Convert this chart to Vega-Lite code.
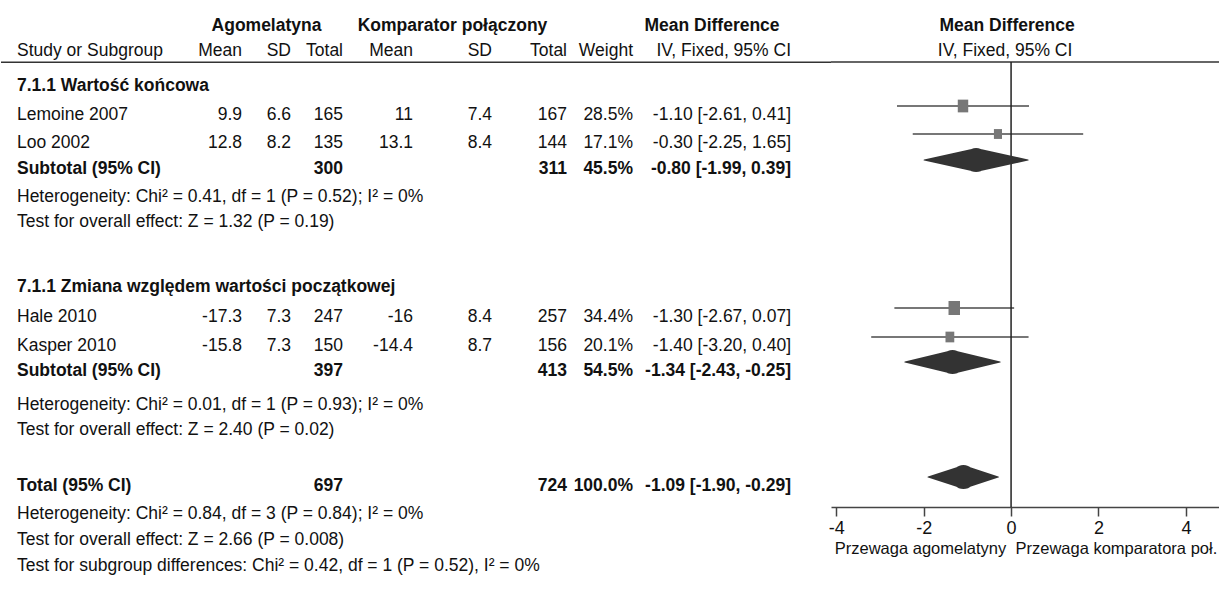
{
  "$schema": "https://vega.github.io/schema/vega-lite/v6.json",
  "padding": 0,
  "spacing": 0,
  "bounds": "flush",
  "background": "white",
  "config": {
    "view": {"stroke": null},
    "font": "Liberation Sans",
    "text": {"font": "Liberation Sans", "fontSize": 17.5, "color": "#111"},
    "axis": {"grid": false, "domainColor": "#444", "domainWidth": 1.5, "tickColor": "#444", "tickWidth": 1.5, "tickSize": 9, "labelFont": "Liberation Sans", "labelFontSize": 18, "labelColor": "#111", "labelPadding": 3, "labelFlush": false, "labelExpr": "replace(datum.label, '\u2212', '-')", "titleFont": "Liberation Sans", "titleFontSize": 16.5, "titleFontWeight": "normal", "titleColor": "#111", "titlePadding": 3}
  },
  "datasets": {
    "rows": [
      {"line": 0, "kind": "head", "label": "Study or Subgroup", "m1": "Mean", "s1": "SD", "n1": "Total", "m2": "Mean", "s2": "SD", "n2": "Total", "w": "Weight", "ci": "IV, Fixed, 95% CI"},
      {"line": 1.4, "kind": "group", "label": "7.1.1 Wartość końcowa"},
      {"line": 2.56, "kind": "study", "label": "Lemoine 2007", "m1": "9.9", "s1": "6.6", "n1": "165", "m2": "11", "s2": "7.4", "n2": "167", "w": "28.5%", "ci": "-1.10 [-2.61, 0.41]"},
      {"line": 3.68, "kind": "study", "label": "Loo 2002", "m1": "12.8", "s1": "8.2", "n1": "135", "m2": "13.1", "s2": "8.4", "n2": "144", "w": "17.1%", "ci": "-0.30 [-2.25, 1.65]"},
      {"line": 4.72, "kind": "sub", "label": "Subtotal (95% CI)", "n1": "300", "n2": "311", "w": "45.5%", "ci": "-0.80 [-1.99, 0.39]"},
      {"line": 5.84, "kind": "stat", "label": "Heterogeneity: Chi² = 0.41, df = 1 (P = 0.52); I² = 0%"},
      {"line": 6.84, "kind": "stat", "label": "Test for overall effect: Z = 1.32 (P = 0.19)"},
      {"line": 9.44, "kind": "group", "label": "7.1.1 Zmiana względem wartości początkowej"},
      {"line": 10.64, "kind": "study", "label": "Hale 2010", "m1": "-17.3", "s1": "7.3", "n1": "247", "m2": "-16", "s2": "8.4", "n2": "257", "w": "34.4%", "ci": "-1.30 [-2.67, 0.07]"},
      {"line": 11.8, "kind": "study", "label": "Kasper 2010", "m1": "-15.8", "s1": "7.3", "n1": "150", "m2": "-14.4", "s2": "8.7", "n2": "156", "w": "20.1%", "ci": "-1.40 [-3.20, 0.40]"},
      {"line": 12.8, "kind": "sub", "label": "Subtotal (95% CI)", "n1": "397", "n2": "413", "w": "54.5%", "ci": "-1.34 [-2.43, -0.25]"},
      {"line": 14.16, "kind": "stat", "label": "Heterogeneity: Chi² = 0.01, df = 1 (P = 0.93); I² = 0%"},
      {"line": 15.16, "kind": "stat", "label": "Test for overall effect: Z = 2.40 (P = 0.02)"},
      {"line": 17.4, "kind": "sub", "label": "Total (95% CI)", "n1": "697", "n2": "724", "w": "100.0%", "ci": "-1.09 [-1.90, -0.29]"},
      {"line": 18.52, "kind": "stat", "label": "Heterogeneity: Chi² = 0.84, df = 3 (P = 0.84); I² = 0%"},
      {"line": 19.56, "kind": "stat", "label": "Test for overall effect: Z = 2.66 (P = 0.008)"},
      {"line": 20.6, "kind": "stat", "label": "Test for subgroup differences: Chi² = 0.42, df = 1 (P = 0.52), I² = 0%"}
    ],
    "cols": [
      {"key": "label", "col": 0}, {"key": "m1", "col": 1}, {"key": "s1", "col": 2}, {"key": "n1", "col": 3},
      {"key": "m2", "col": 4}, {"key": "s2", "col": 5}, {"key": "n2", "col": 6}, {"key": "w", "col": 7}, {"key": "ci", "col": 8}
    ],
    "spans": [
      {"line": -1, "col": 1.5, "text": "Agomelatyna"},
      {"line": -1, "col": 4.5, "text": "Komparator połączony"},
      {"line": -1, "col": 7.5, "text": "Mean Difference"}
    ],
    "studies": [
      {"line": 2.56, "md": -1.10, "lo": -2.61, "hi": 0.41, "w": 28.5},
      {"line": 3.68, "md": -0.30, "lo": -2.25, "hi": 1.65, "w": 17.1},
      {"line": 10.64, "md": -1.30, "lo": -2.67, "hi": 0.07, "w": 34.4},
      {"line": 11.8, "md": -1.40, "lo": -3.20, "hi": 0.40, "w": 20.1}
    ],
    "pooled": [
      {"line": 4.72, "md": -0.80, "lo": -1.99, "hi": 0.39},
      {"line": 12.8, "md": -1.34, "lo": -2.43, "hi": -0.25},
      {"line": 17.4, "md": -1.09, "lo": -1.90, "hi": -0.29}
    ],
    "fhead": [
      {"line": -1, "text": "Mean Difference", "kind": "top"},
      {"line": 0, "text": "IV, Fixed, 95% CI", "kind": "sub"}
    ]
  },
  "hconcat": [
    {
      "width": 830,
      "height": 589,
      "layer": [
        {
          "data": {"values": [{}]},
          "mark": {"type": "rule", "color": "#333", "strokeWidth": 1.5},
          "encoding": {
            "y": {"datum": 0.45, "type": "quantitative", "scale": {"domain": [-2.04, 21.52], "reverse": true, "nice": false, "zero": false}, "axis": null}
          }
        },
        {
          "data": {"name": "spans"},
          "mark": {"type": "text", "align": "center", "baseline": "middle", "fontWeight": "bold"},
          "encoding": {
            "x": {"field": "col", "type": "quantitative", "scale": {"domain": [0, 1, 2, 3, 4, 5, 6, 7, 8], "range": [16, 241, 290, 342, 412, 491, 566, 632, 790]}, "axis": null},
            "y": {"field": "line", "type": "quantitative", "axis": null},
            "text": {"field": "text"}
          }
        },
        {
          "data": {"name": "rows"},
          "transform": [
            {"fold": ["label", "m1", "s1", "n1", "m2", "s2", "n2", "w", "ci"], "as": ["key", "value"]},
            {"filter": "datum.value != null"},
            {"lookup": "key", "from": {"data": {"name": "cols"}, "key": "key", "fields": ["col"]}},
            {"filter": "datum.col == 0 && (datum.kind == 'study' || datum.kind == 'stat' || datum.kind == 'head')"}
          ],
          "mark": {"type": "text", "align": "left", "baseline": "middle"},
          "encoding": {
            "x": {"field": "col", "type": "quantitative", "axis": null},
            "y": {"field": "line", "type": "quantitative", "axis": null},
            "text": {"field": "value"}
          }
        },
        {
          "data": {"name": "rows"},
          "transform": [
            {"fold": ["label", "m1", "s1", "n1", "m2", "s2", "n2", "w", "ci"], "as": ["key", "value"]},
            {"filter": "datum.value != null"},
            {"lookup": "key", "from": {"data": {"name": "cols"}, "key": "key", "fields": ["col"]}},
            {"filter": "datum.col == 0 && (datum.kind == 'group' || datum.kind == 'sub')"}
          ],
          "mark": {"type": "text", "align": "left", "baseline": "middle", "fontWeight": "bold"},
          "encoding": {
            "x": {"field": "col", "type": "quantitative", "axis": null},
            "y": {"field": "line", "type": "quantitative", "axis": null},
            "text": {"field": "value"}
          }
        },
        {
          "data": {"name": "rows"},
          "transform": [
            {"fold": ["label", "m1", "s1", "n1", "m2", "s2", "n2", "w", "ci"], "as": ["key", "value"]},
            {"filter": "datum.value != null"},
            {"lookup": "key", "from": {"data": {"name": "cols"}, "key": "key", "fields": ["col"]}},
            {"filter": "datum.col > 0 && (datum.kind == 'study' || datum.kind == 'head')"}
          ],
          "mark": {"type": "text", "align": "right", "baseline": "middle"},
          "encoding": {
            "x": {"field": "col", "type": "quantitative", "axis": null},
            "y": {"field": "line", "type": "quantitative", "axis": null},
            "text": {"field": "value"}
          }
        },
        {
          "data": {"name": "rows"},
          "transform": [
            {"fold": ["label", "m1", "s1", "n1", "m2", "s2", "n2", "w", "ci"], "as": ["key", "value"]},
            {"filter": "datum.value != null"},
            {"lookup": "key", "from": {"data": {"name": "cols"}, "key": "key", "fields": ["col"]}},
            {"filter": "datum.col > 0 && datum.kind == 'sub'"}
          ],
          "mark": {"type": "text", "align": "right", "baseline": "middle", "fontWeight": "bold"},
          "encoding": {
            "x": {"field": "col", "type": "quantitative", "axis": null},
            "y": {"field": "line", "type": "quantitative", "axis": null},
            "text": {"field": "value"}
          }
        }
      ]
    },
    {
      "width": 389,
      "height": 507,
      "layer": [
        {
          "data": {"name": "studies"},
          "mark": {"type": "rule", "color": "#777", "strokeWidth": 2},
          "encoding": {
            "x": {"field": "lo", "type": "quantitative",
              "scale": {"domain": [-4.12, 4.78], "nice": false, "zero": false},
              "axis": {"values": [-4, -2, 0, 2, 4], "title": "Przewaga agomelatyny\u00a0\u00a0Przewaga komparatora poł."}},
            "x2": {"field": "hi"},
            "y": {"field": "line", "type": "quantitative", "scale": {"domain": [-1.68, 18.6], "reverse": true, "nice": false, "zero": false}, "axis": null}
          }
        },
        {
          "data": {"values": [{}]},
          "mark": {"type": "rule", "color": "#333", "strokeWidth": 1.5},
          "encoding": {
            "y": {"datum": 0.8, "type": "quantitative"}
          }
        },
        {
          "data": {"values": [{}]},
          "mark": {"type": "rule", "color": "#222", "strokeWidth": 1.5},
          "encoding": {
            "x": {"datum": 0, "type": "quantitative", "axis": {"values": [-4, -2, 0, 2, 4], "title": "Przewaga agomelatyny\u00a0\u00a0Przewaga komparatora poł."}},
            "y": {"datum": 0.8, "type": "quantitative"},
            "y2": {"datum": 18.6}
          }
        },
        {
          "data": {"name": "studies"},
          "mark": {"type": "point", "shape": "M-0.82,-1H0.82V1H-0.82Z", "filled": true, "color": "#777", "opacity": 1},
          "encoding": {
            "x": {"field": "md", "type": "quantitative", "axis": {"values": [-4, -2, 0, 2, 4], "title": "Przewaga agomelatyny\u00a0\u00a0Przewaga komparatora poł."}},
            "y": {"field": "line", "type": "quantitative"},
            "size": {"field": "w", "type": "quantitative", "scale": {"domain": [0, 34.4], "range": [0, 196]}, "legend": null}
          }
        },
        {
          "data": {"name": "pooled"},
          "transform": [
            {"fold": ["lo", "md", "hi"], "as": ["part", "xv"]}
          ],
          "mark": {"type": "trail", "color": "#333"},
          "encoding": {
            "x": {"field": "xv", "type": "quantitative", "axis": {"values": [-4, -2, 0, 2, 4], "title": "Przewaga agomelatyny\u00a0\u00a0Przewaga komparatora poł."}},
            "y": {"field": "line", "type": "quantitative"},
            "detail": {"field": "line", "type": "nominal"},
            "order": {"field": "xv", "type": "quantitative"},
            "size": {"field": "part", "type": "ordinal", "scale": {"type": "ordinal", "domain": ["lo", "md", "hi"], "range": [0, 24, 0]}, "legend": null}
          }
        },
        {
          "data": {"name": "fhead"},
          "transform": [{"filter": "datum.kind == 'top'"}],
          "mark": {"type": "text", "align": "center", "baseline": "middle", "fontWeight": "bold", "dy": 9, "dx": -4},
          "encoding": {
            "x": {"datum": 0, "type": "quantitative", "axis": {"values": [-4, -2, 0, 2, 4], "title": "Przewaga agomelatyny\u00a0\u00a0Przewaga komparatora poł."}},
            "y": {"field": "line", "type": "quantitative"},
            "text": {"field": "text"}
          }
        },
        {
          "data": {"name": "fhead"},
          "transform": [{"filter": "datum.kind == 'sub'"}],
          "mark": {"type": "text", "align": "center", "baseline": "middle", "dy": 9, "dx": -6},
          "encoding": {
            "x": {"datum": 0, "type": "quantitative", "axis": {"values": [-4, -2, 0, 2, 4], "title": "Przewaga agomelatyny\u00a0\u00a0Przewaga komparatora poł."}},
            "y": {"field": "line", "type": "quantitative"},
            "text": {"field": "text"}
          }
        }
      ]
    }
  ]
}
